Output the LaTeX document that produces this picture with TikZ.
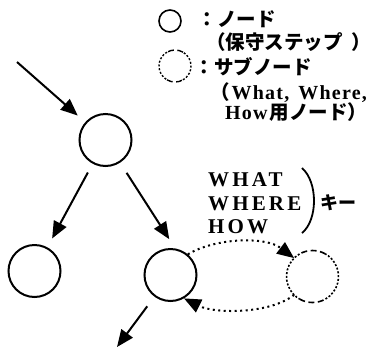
\documentclass[tikz,border=0pt]{standalone}
\usepackage{fontspec}
\setmainfont{Liberation Serif}
\newfontfamily\jp{Noto Sans CJK JP}
\newfontfamily\lat[LetterSpace=6]{Liberation Serif}
\newfontfamily\keyfont[LetterSpace=15]{Liberation Serif}
\usetikzlibrary{arrows.meta}

\tikzset{
  stepnode/.style={circle, draw, line width=2pt, minimum size=52pt, inner sep=0pt},
  subnode/.style={circle, minimum size=52pt, inner sep=0pt, outer sep=0pt},
  ringlong/.style={line width=1.6pt, dash pattern=on 6pt off 3.5pt},
  ringshort/.style={line width=1.6pt, dash pattern=on 2pt off 1.8pt},
  flow/.style={line width=2pt, -{Triangle[length=17pt,width=14pt]}},
  link/.style={line width=2pt, dash pattern=on 2pt off 3.5pt,
               -{Triangle[length=17pt,width=14pt]}},
  jptext/.style={anchor=base west, inner sep=0pt,
                 font=\jp\bfseries\fontsize{19.5}{19.5}\selectfont},
  keytext/.style={anchor=base west, inner sep=0pt,
                  font=\keyfont\bfseries\fontsize{21}{21}\selectfont},
}
\newcommand{\latw}[1]{{\lat\bfseries\fontsize{20}{20}\selectfont #1}}
% dashed ring round a sub-node: long dashes on top and bottom, short ones at the sides
\newcommand{\subring}[3][1.6pt]{%
  \draw[ringlong, line width=#1] (#2.60) arc[start angle=60, end angle=120, radius=#3];
  \draw[ringshort, line width=#1] (#2.120) arc[start angle=120, end angle=240, radius=#3];
  \draw[ringlong, line width=#1] (#2.240) arc[start angle=240, end angle=300, radius=#3];
  \draw[ringshort, line width=#1] (#2.300) arc[start angle=300, end angle=420, radius=#3];
}

\begin{document}
\begin{tikzpicture}[x=1pt,y=-1pt]
  \useasboundingbox (0,0) rectangle (375,354);

  % legend
  \node[stepnode, line width=1.6pt, minimum size=22pt] (lgstep) at (170,21) {};
  \node[subnode, minimum size=32pt] (lgsub) at (175,66) {};
  \subring[1.4pt]{lgsub}{16pt}
  \node[jptext] (lg1) at (197.5,26) {：ノード};
  \node[jptext] (lg2) at (206,49) {（保守ステップ\hspace{9pt}）};
  \node[jptext] (lg3) at (194.5,74) {：サブノード};
  \node[jptext] (lg4) at (210,99) {（\hspace{2pt}\latw{What,\hspace{3pt} Where,}};
  \node[jptext] (lg5) at (225,119) {\latw{How}\hspace{2pt}用ノード）};

  % tree of steps
  \node[stepnode] (top) at (105.5,140) {};
  \node[stepnode] (bl) at (34.5,271) {};
  \node[stepnode] (bm) at (170.5,275) {};
  \node[subnode] (sub) at (312.5,276.5) {};
  \subring{sub}{26pt}

  \coordinate (in) at (17,62);
  \coordinate (out) at (117,347);

  \draw[flow, shorten >=10pt] (in) -- (top);
  \draw[flow, shorten <=10pt, shorten >=10pt] (top) -- (bl);
  \draw[flow, shorten <=12pt, shorten >=11pt] (top) -- (bm.80);
  \draw[flow, shorten <=12pt] (bm) -- (out);

  % links to the sub-node
  \draw[link] (bm.50) .. controls (215,238) and (265,236) .. (sub.135);
  \draw[link] (sub.225) .. controls (270,314) and (215,314) .. (bm.-60);

  % keys
  \node[keytext] (kwhat) at (208,186) {WHAT};
  \node[keytext] (kwhere) at (208,210) {WHERE};
  \node[keytext] (khow) at (208,233) {HOW};
  \draw[line width=1.8pt] (302,168) .. controls (318,182) and (318,220) .. (302,233);
  \node[anchor=west, inner sep=0pt, font=\jp\bfseries\fontsize{18}{18}\selectfont]
    (key) at (320,203) {キー};
\end{tikzpicture}
\end{document}
